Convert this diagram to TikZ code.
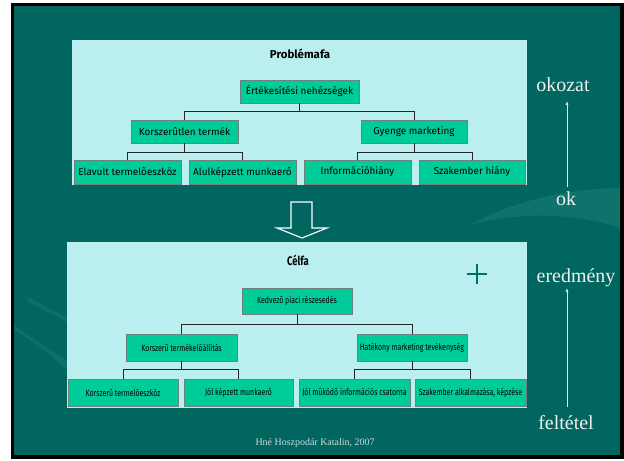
\documentclass[tikz,border=0pt]{standalone}
\usepackage{fontspec}
\setmainfont{Liberation Serif}
\newfontfamily\boxfont{Fira Sans}
\newfontfamily\condfont[FakeStretch=0.76]{Fira Sans}
\usetikzlibrary{arrows.meta}
\definecolor{slidebg}{RGB}{0,102,95}
\definecolor{swoosh}{RGB}{40,135,125}
\definecolor{panel}{RGB}{187,239,239}
\definecolor{boxfill}{RGB}{0,204,153}
\definecolor{boxline}{RGB}{110,130,125}
\definecolor{footer}{RGB}{200,220,220}
\definecolor{plusc}{RGB}{0,110,105}
\tikzset{
  box/.style={draw=boxline, line width=0.9bp, fill=boxfill, inner sep=0pt, text=black},
  topbox/.style={box, font=\boxfont\fontsize{10}{12}\selectfont},
  botbox/.style={box, font=\condfont\fontsize{9.2}{11}\selectfont},
  link/.style={draw=black!85, line width=0.9bp},
  side/.style={text=white!94!black, font=\fontsize{20}{22}\selectfont, inner sep=0pt, anchor=base},
  sidearrow/.style={draw=white!90!black, line width=0.7bp, -{Latex[length=4bp,width=3bp]}}
}
\begin{document}
\begin{tikzpicture}[x=1bp,y=-1bp]
\useasboundingbox (0,0) rectangle (624,461);
\fill[white] (0,0) rectangle (624,461);
% slide
\fill[black] (11,3) rectangle (624,459);
\fill[slidebg] (14,6) rectangle (620,455);
% decorative swooshes
\fill[swoosh, opacity=0.4] (620,188) .. controls (570,189) and (520,198) .. (470,225)
  .. controls (520,212) and (570,212) .. (620,228) -- cycle;
\fill[swoosh, opacity=0.3] (14,330) .. controls (40,345) and (55,360) .. (67,370)
  -- (67,360) .. controls (50,350) and (35,340) .. (14,325) -- cycle;
\fill[swoosh, opacity=0.3] (25,300) -- (67,322) -- (67,318) -- (30,298) -- cycle;
% panels
\fill[panel] (72,40) rectangle (527,185);
\fill[panel] (67,242) rectangle (527,408);
% top tree
\node[font=\boxfont\bfseries\fontsize{11.5}{13}\selectfont] (ptitle) at (300,54) {Problémafa};
\node[topbox, minimum width=119bp, minimum height=23bp] (r1) at (299.5,91.5) {Értékesítési nehézségek};
\node[topbox, minimum width=107bp, minimum height=23bp] (k1) at (184.5,131.5) {Korszerûtlen termék};
\node[topbox, minimum width=106bp, minimum height=23bp] (g1) at (414,131.5) {Gyenge marketing};
\node[topbox, minimum width=107bp, minimum height=24bp] (e1) at (127.5,172) {Elavult termelõeszköz};
\node[topbox, minimum width=107bp, minimum height=24bp] (a1) at (242.5,172) {Alulképzett munkaerő};
\node[topbox, minimum width=107bp, minimum height=24bp] (i1) at (357.5,172) {Információhiány};
\node[topbox, minimum width=106bp, minimum height=24bp] (s1) at (472,172) {Szakember hiány};
\draw[link] (r1.south) -- ++(0,8) -| (k1.north);
\draw[link] (r1.south) -- ++(0,8) -| (g1.north);
\draw[link] (k1.south) -- ++(0,9) -| (e1.north);
\draw[link] (k1.south) -- ++(0,9) -| (a1.north);
\draw[link] (g1.south) -- ++(0,9) -| (i1.north);
\draw[link] (g1.south) -- ++(0,9) -| (s1.north);
% big hollow arrow
\draw[white, line width=1.2bp, fill=slidebg] (291,202) -- (312,202) -- (312,228) -- (327,228)
  -- (302,238) -- (277,228) -- (291,228) -- cycle;
% bottom tree
\node[font=\condfont\bfseries\fontsize{12.5}{14}\selectfont] (ctitle) at (298,260) {Célfa};
\draw[plusc, line width=2.2bp] (467,274) -- (487,274) (477,264) -- (477,284);
\node[botbox, minimum width=110bp, minimum height=26bp] (r2) at (297,301) {Kedvezõ piaci részesedés};
\node[botbox, minimum width=111bp, minimum height=27bp] (k2) at (181.5,347.5) {Korszerû termékelõállítás};
\node[botbox, minimum width=110bp, minimum height=27bp] (h2) at (412,347.5) {Hatékony marketing tevékenység};
\node[botbox, minimum width=110bp, minimum height=27bp] (e2) at (123,392.5) {Korszerû termelõeszköz};
\node[botbox, minimum width=109bp, minimum height=27bp] (j2) at (238.5,392.5) {Jól képzett munkaerõ};
\node[botbox, minimum width=111bp, minimum height=27bp] (m2) at (354.5,392.5) {Jól mûködõ információs csatorna};
\node[botbox, minimum width=111bp, minimum height=27bp] (s2) at (470.5,392.5) {Szakember alkalmazása, képzése};
\draw[link] (r2.south) -- ++(0,10) -| (k2.north);
\draw[link] (r2.south) -- ++(0,10) -| (h2.north);
\draw[link] (k2.south) -- ++(0,8) -| (e2.north);
\draw[link] (k2.south) -- ++(0,8) -| (j2.north);
\draw[link] (h2.south) -- ++(0,8) -| (m2.north);
\draw[link] (h2.south) -- ++(0,8) -| (s2.north);
% side labels
\node[side] (okozat) at (563,91.5) {okozat};
\node[side] (ok) at (566,206) {ok};
\node[side] (eredmeny) at (576,282.5) {eredmény};
\node[side] (feltetel) at (566,429) {feltétel};
\coordinate (okbase) at (567,187);
\coordinate (oktop) at (567,101);
\coordinate (febase) at (567,407);
\coordinate (fetop) at (567,288);
\draw[sidearrow] (okbase) -- (oktop);
\draw[sidearrow] (febase) -- (fetop);
% footer
\node[text=footer, font=\fontsize{10}{12}\selectfont] (foot) at (315,443) {Hné Hoszpodár Katalin, 2007};
\end{tikzpicture}
\end{document}
